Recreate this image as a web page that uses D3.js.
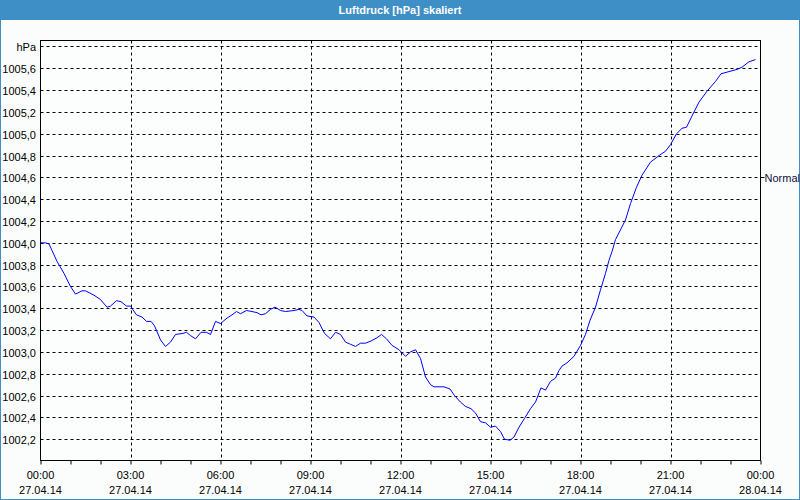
<!DOCTYPE html>
<html><head><meta charset="utf-8">
<script src="https://cdn.jsdelivr.net/npm/d3@7"></script>
<style>
html,body{margin:0;padding:0;background:#fafdfc;}
text{font-family:"Liberation Sans",Arial,sans-serif;font-size:11px;}
</style></head>
<body><svg id="chart" width="800" height="500"></svg>
<script>
const chartTitle = "Luftdruck [hPa] skaliert";
const unitLabel = "hPa";
const refLabel = "Normal";
const refValue = 1004.6;
const times = ["00:00","00:10","00:17","00:23","00:33","00:47","01:00","01:10","01:23","01:30","01:47","02:00","02:13","02:20","02:32","02:41","02:52","03:00","03:12","03:23","03:32","03:41","03:48","04:00","04:10","04:20","04:30","04:45","04:52","05:00","05:10","05:21","05:32","05:40","05:50","06:00","06:13","06:23","06:32","06:40","06:52","07:03","07:13","07:21","07:30","07:40","07:49","08:00","08:10","08:27","08:37","08:43","08:53","09:07","09:17","09:28","09:40","09:50","10:00","10:10","10:20","10:30","10:40","10:50","11:01","11:13","11:22","11:32","11:43","11:57","12:10","12:20","12:30","12:40","12:50","13:00","13:07","13:27","13:39","13:48","14:00","14:10","14:21","14:30","14:40","14:50","15:00","15:10","15:20","15:28","15:39","15:47","15:57","16:08","16:20","16:30","16:41","16:50","17:00","17:10","17:17","17:23","17:33","17:47","18:00","18:10","18:19","18:30","18:40","18:50","18:57","19:03","19:10","19:30","19:40","19:52","20:03","20:20","20:37","20:50","21:00","21:12","21:23","21:32","21:47","21:57","22:13","22:30","22:41","22:57","23:13","23:23","23:37","23:50"];
const pressure = [1004.00,1004.00,1003.99,1003.93,1003.83,1003.72,1003.60,1003.53,1003.56,1003.56,1003.52,1003.48,1003.41,1003.42,1003.47,1003.46,1003.42,1003.42,1003.34,1003.32,1003.28,1003.28,1003.24,1003.11,1003.05,1003.09,1003.16,1003.17,1003.18,1003.15,1003.12,1003.18,1003.18,1003.16,1003.28,1003.26,1003.31,1003.34,1003.37,1003.35,1003.38,1003.37,1003.36,1003.34,1003.35,1003.39,1003.41,1003.38,1003.37,1003.38,1003.39,1003.38,1003.33,1003.32,1003.27,1003.17,1003.12,1003.18,1003.16,1003.09,1003.07,1003.05,1003.08,1003.08,1003.10,1003.13,1003.16,1003.12,1003.06,1003.02,1002.96,1003.00,1003.02,1002.94,1002.77,1002.70,1002.68,1002.68,1002.66,1002.60,1002.54,1002.50,1002.48,1002.44,1002.36,1002.35,1002.31,1002.32,1002.27,1002.20,1002.19,1002.22,1002.31,1002.39,1002.48,1002.54,1002.67,1002.65,1002.73,1002.76,1002.83,1002.87,1002.90,1002.96,1003.06,1003.16,1003.29,1003.41,1003.57,1003.72,1003.84,1003.92,1004.03,1004.21,1004.36,1004.51,1004.62,1004.74,1004.80,1004.84,1004.90,1005.00,1005.05,1005.06,1005.20,1005.29,1005.39,1005.48,1005.55,1005.57,1005.59,1005.61,1005.66,1005.68];
const yTickValues = [1002.2,1002.4,1002.6,1002.8,1003.0,1003.2,1003.4,1003.6,1003.8,1004.0,1004.2,1004.4,1004.6,1004.8,1005.0,1005.2,1005.4,1005.6,1005.8];
const xTickLabels = [["00:00","27.04.14"],["03:00","27.04.14"],["06:00","27.04.14"],["09:00","27.04.14"],["12:00","27.04.14"],["15:00","27.04.14"],["18:00","27.04.14"],["21:00","27.04.14"],["00:00","28.04.14"]];

const svg = d3.select("#chart");
const W = 800, H = 500;
const L = 40.5, R = 760.5, T = 40.5, B = 460.5;

const day0 = new Date(2014, 3, 27, 0, 0);
const day1 = new Date(2014, 3, 28, 0, 0);
const parseT = s => { const [h, m] = s.split(":").map(Number); return new Date(2014, 3, 27, h, m); };
const data = times.map((t, i) => ({ t: parseT(t), v: pressure[i] }));

const x = d3.scaleTime().domain([day0, day1]).range([L, R]);
const y = d3.scaleLinear().domain([1002.0, 1005.855]).range([B + 0.5, T]);
const loc = d3.formatLocale({ decimal: ",", thousands: ".", grouping: [3], currency: ["", "€"] });
const fmt = loc.format(".1f");

// background & window chrome
svg.append("rect").attr("width", W).attr("height", H).attr("fill", "#fafdfc");
svg.append("rect").attr("x", 0).attr("y", 0).attr("width", W).attr("height", 20).attr("fill", "#3d8fc6");
svg.append("rect").attr("x", 0.5).attr("y", 0.5).attr("width", W - 1).attr("height", H - 1)
  .attr("fill", "none").attr("stroke", "#3d8fc6");
svg.append("text").attr("x", W / 2).attr("y", 14).attr("text-anchor", "middle")
  .attr("fill", "#fff").attr("font-weight", "bold").text(chartTitle);

// plot area
svg.append("rect").attr("x", L).attr("y", T).attr("width", R - L).attr("height", B - T).attr("fill", "#fcfefd");

// horizontal grid
const hTicks = yTickValues.map(v => ({ v, y: Math.round(y(v)) + 0.5 }));
svg.append("g").selectAll("line").data(hTicks).join("line")
  .attr("x1", L).attr("x2", R).attr("y1", d => d.y).attr("y2", d => d.y)
  .attr("stroke", "#000").attr("stroke-dasharray", "3,3");

// vertical grid via x axis ticks
const majorTicks = d3.range(0, 9).map(i => d3.timeHour.offset(day0, i * 3));
const minorTicks = d3.timeHour.range(day0, d3.timeHour.offset(day1, 1));
svg.append("g").selectAll("line").data(majorTicks.slice(1, -1)).join("line")
  .attr("x1", d => Math.round(x(d)) + 0.5).attr("x2", d => Math.round(x(d)) + 0.5)
  .attr("y1", T).attr("y2", B)
  .attr("stroke", "#000").attr("stroke-dasharray", "3,3");

// x axis ticks (hourly) and labels
const xAxis = d3.axisBottom(x).tickValues(minorTicks).tickSize(4).tickFormat("");
const gx = svg.append("g").attr("transform", `translate(0,${B})`).call(xAxis);
gx.select(".domain").remove();
gx.selectAll(".tick line").attr("stroke", "#000");
const xl = svg.append("g").selectAll("text").data(majorTicks).join("text")
  .attr("x", d => x(d)).attr("text-anchor", "middle").attr("fill", "#000");
xl.append("tspan").attr("x", d => x(d)).attr("y", 478.5).text((d, i) => xTickLabels[i][0]);
xl.append("tspan").attr("x", d => x(d)).attr("y", 494).text((d, i) => xTickLabels[i][1]);

// y labels
svg.append("g").selectAll("text").data(hTicks).join("text")
  .attr("x", 36).attr("y", d => d.y + 4).attr("text-anchor", "end").attr("fill", "#000")
  .text(d => Math.abs(d.v - 1005.8) < 1e-6 ? unitLabel : fmt(d.v));

// reference marker on right
const ry = Math.round(y(refValue)) + 0.5;
svg.append("line").attr("x1", R).attr("x2", R + 4).attr("y1", ry).attr("y2", ry).attr("stroke", "#000");
svg.append("text").attr("x", R + 4).attr("y", ry + 4).attr("fill", "#101040").text(refLabel);

// data line
const line = d3.line().x(d => x(d.t)).y(d => y(d.v));
svg.append("path").datum(data).attr("d", line).attr("fill", "none")
  .attr("stroke", "#0000ff").attr("stroke-width", 1);

// frame
svg.append("rect").attr("x", L).attr("y", T).attr("width", R - L).attr("height", B - T)
  .attr("fill", "none").attr("stroke", "#000");
</script></body></html>
